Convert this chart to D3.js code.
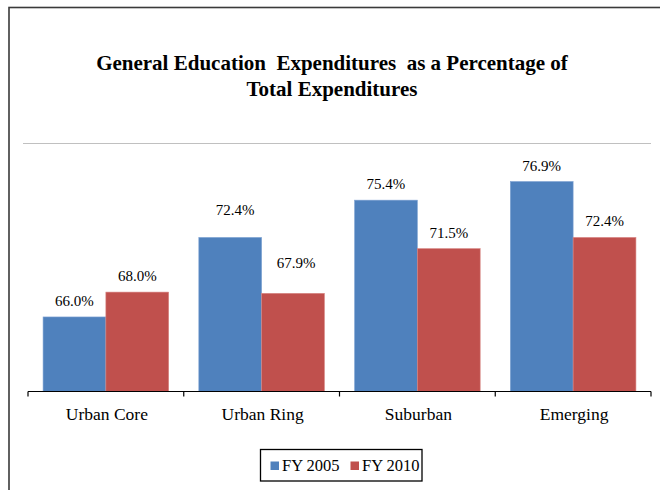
<!DOCTYPE html>
<html>
<head>
<meta charset="utf-8">
<script src="https://cdn.jsdelivr.net/npm/d3@7"></script>
<style>
  html, body { margin: 0; padding: 0; background: #fff; }
  svg { display: block; }
  .title { white-space: pre; }
</style>
</head>
<body>
<div id="chart"></div>
<script>
// Share of total spending that goes to general education, by district type
const categories = ["Urban Core", "Urban Ring", "Suburban", "Emerging"];
const seriesNames = ["FY 2005", "FY 2010"];
const fy2005 = [66.0, 72.4, 75.4, 76.9];
const fy2010 = [68.0, 67.9, 71.5, 72.4];
const titleLines = ["General Education  Expenditures  as a Percentage of", "Total Expenditures"];
const yDomain = [60, 80];

const W = 660, H = 490;
const colors = ["#4F81BD", "#C0504D"];
const FONT = "'Liberation Serif', 'Times New Roman', Times, 'DejaVu Serif', serif";

const rows = categories.map((c, i) => ({ category: c, values: [fy2005[i], fy2010[i]] }));

const svg = d3.select("#chart").append("svg")
  .attr("width", W).attr("height", H)
  .attr("font-family", FONT)
  .style("font-family", FONT);

// outer frame (right and bottom edges fall outside the view)
svg.append("rect")
  .attr("x", 9).attr("y", 7.5)
  .attr("width", W + 20).attr("height", H + 20)
  .attr("fill", "none").attr("stroke", "#3a3a3a").attr("stroke-width", 1.6);

// title
const title = svg.append("text").attr("class", "title")
  .attr("text-anchor", "middle")
  .style("font-family", FONT)
  .style("font-weight", "bold").style("font-size", "21px");
title.selectAll("tspan").data(titleLines).join("tspan")
  .attr("x", 332).attr("y", (d, i) => 69.5 + i * 26)
  .text(d => d);

// plot scales
const plotLeft = 28, plotRight = 651, plotTop = 143, plotBottom = 391.5;
const x0 = d3.scaleBand().domain(categories).range([plotLeft, plotRight]).paddingInner(0).paddingOuter(0);
const x1 = d3.scaleBand().domain(seriesNames).range([0, x0.bandwidth()]).paddingInner(0).paddingOuter(0.24);
const y = d3.scaleLinear().domain(yDomain).range([plotBottom, plotTop]);

// top gridline of the value axis
svg.append("line")
  .attr("x1", 23).attr("x2", plotRight)
  .attr("y1", y(yDomain[1]) + 0.5).attr("y2", y(yDomain[1]) + 0.5)
  .attr("stroke", "#c0c0c0").attr("stroke-width", 1.2);

// bars
const groups = svg.append("g").selectAll("g").data(rows).join("g")
  .attr("transform", d => `translate(${x0(d.category)},0)`);

groups.selectAll("rect")
  .data(d => d.values.map((v, j) => ({ series: seriesNames[j], value: v, j, category: d.category })))
  .join("rect")
  .attr("x", d => x1(d.series))
  .attr("width", x1.bandwidth())
  .attr("y", d => y(d.value))
  .attr("height", d => plotBottom - y(d.value))
  .attr("fill", d => colors[d.j])
  .attr("stroke", d => d.j === 0 ? "#7fa3d3" : "#d88684")
  .attr("stroke-width", 0.6);

// value labels; the Urban Ring pair sits a little higher than the rest
const labelGap = 11;
const extraLift = { "Urban Ring": [11, 14.5] };
const labelShift = { "Urban Ring": [5, 3] };
groups.selectAll("text.val")
  .data(d => d.values.map((v, j) => ({ series: seriesNames[j], value: v, j, category: d.category })))
  .join("text").attr("class", "val")
  .attr("text-anchor", "middle")
  .style("font-family", FONT)
  .style("font-size", "15px")
  .attr("x", d => x1(d.series) + x1.bandwidth() / 2 + ((labelShift[d.category] || [0, 0])[d.j]))
  .attr("y", d => y(d.value) - labelGap - ((extraLift[d.category] || [0, 0])[d.j]))
  .text(d => d3.format(".1f")(d.value) + "%");

// category axis
const axis = svg.append("g").attr("transform", `translate(0,${plotBottom})`);
axis.append("line")
  .attr("x1", plotLeft).attr("x2", plotRight)
  .attr("stroke", "#000").attr("stroke-width", 1.2);
const tickXs = categories.map(c => x0(c)).concat([plotRight]);
axis.selectAll("line.tick").data(tickXs).join("line").attr("class", "tick")
  .attr("x1", d => d).attr("x2", d => d)
  .attr("y1", 0).attr("y2", 5)
  .attr("stroke", "#000").attr("stroke-width", 1.2);
axis.selectAll("text").data(categories).join("text")
  .attr("x", d => x0(d) + x0.bandwidth() / 2 + 1)
  .attr("y", 28.5)
  .attr("text-anchor", "middle")
  .style("font-family", FONT)
  .style("font-size", "17.5px")
  .text(d => d);

// legend
const legend = svg.append("g");
legend.append("rect")
  .attr("x", 260.5).attr("y", 449.5).attr("width", 161.5).attr("height", 31.5)
  .attr("fill", "#fff").attr("stroke", "#000").attr("stroke-width", 1.3);
const legendX = [270.5, 350.5];
const items = legend.selectAll("g").data(seriesNames).join("g")
  .attr("transform", (d, i) => `translate(${legendX[i]},0)`);
items.append("rect")
  .attr("x", 0).attr("y", 461.5).attr("width", 8.5).attr("height", 8.5)
  .attr("fill", (d, i) => colors[i]);
items.append("text")
  .attr("x", 11.5).attr("y", 471)
  .style("font-family", FONT)
  .style("font-size", "16.5px")
  .text(d => d);
</script>
</body>
</html>
